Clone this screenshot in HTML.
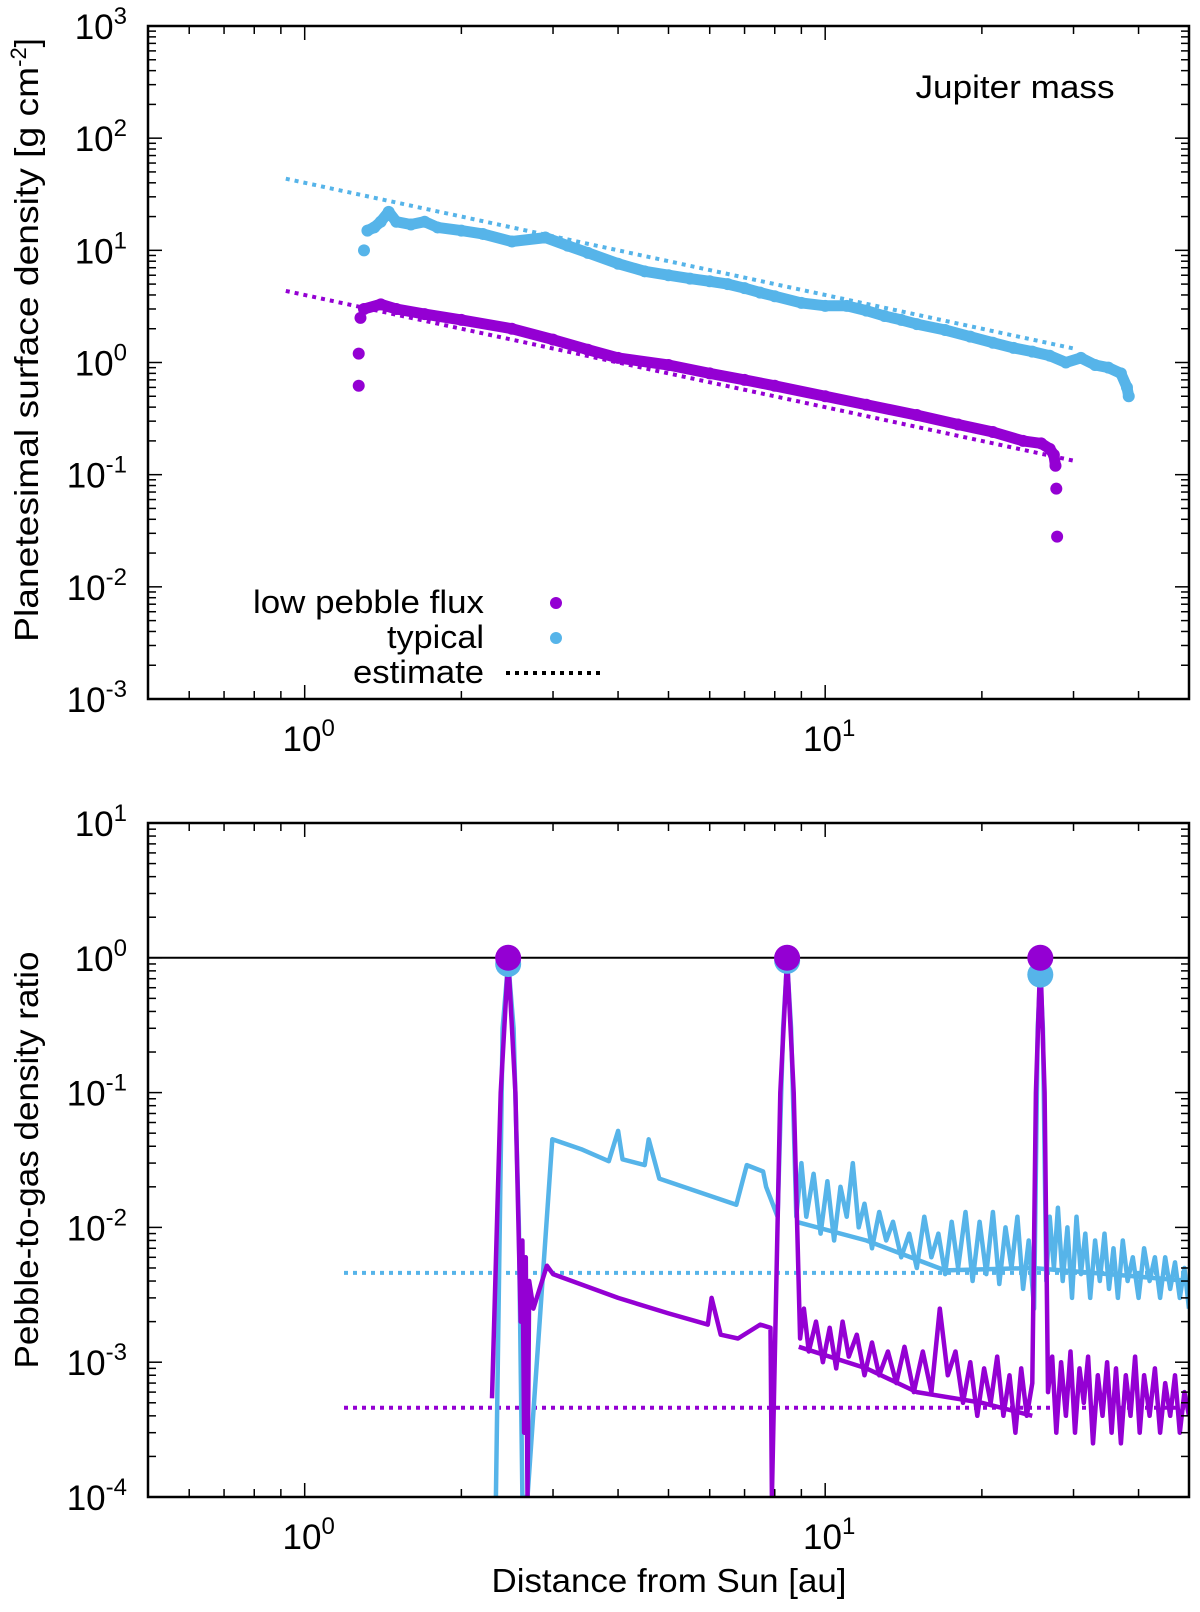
<!DOCTYPE html>
<html><head><meta charset="utf-8"><style>
body{margin:0;background:#fff;}
svg{display:block;font-family:"Liberation Sans",Arial,sans-serif;}
</style></head><body>
<svg id="fig" width="1200" height="1612" viewBox="0 0 1200 1612" xmlns="http://www.w3.org/2000/svg"></svg>
<script>
// ---- Top panel data ----
const typicalX = [1.3,1.32,1.36,1.4,1.45,1.5,1.6,1.7,1.8,2.0,2.2,2.5,2.9,3.2,3.5,4.0,4.5,5.0,5.5,6.0,6.5,7.0,7.5,8.0,9.0,10,11,12,13,14,15,17,19,21,23,25,27,29,31,33,35,37,38,38.3];
const typicalY = [10,15,16,18,22,18,17,18,16,15,14,12,13,11,9.5,7.6,6.5,6.0,5.6,5.3,5.0,4.6,4.2,3.9,3.4,3.2,3.2,2.9,2.6,2.4,2.2,1.95,1.7,1.5,1.35,1.25,1.15,1.0,1.1,0.95,0.9,0.8,0.6,0.5];
const lowX = [1.27,1.27,1.28,1.3,1.4,1.5,1.7,2.0,2.5,3.0,3.5,4.0,5.0,6.0,7.0,8.0,10,12,15,18,21,24,26,27,27.5,27.7,27.8,27.9];
const lowY = [0.62,1.2,2.5,3.0,3.3,3.0,2.7,2.4,2.0,1.6,1.3,1.1,0.95,0.8,0.7,0.62,0.5,0.42,0.34,0.28,0.24,0.2,0.19,0.17,0.15,0.12,0.075,0.028];
const estX = [0.92,30.5];
const estTypY = [43.5,1.31];
const estLowY = [4.35,0.131];
// ---- Bottom panel data ----
const cyanX = [2.33,2.40,2.46,2.52,2.58,2.62,2.68,2.99,3.4,3.84,4.0,4.08,4.5,4.58,4.8,6.75,7.07,7.6,7.7,8.1,8.3,8.45,8.6,8.8,9.0,9.2,9.5,9.8,10.1,10.4,10.7,11.0,11.3,11.6,11.9,12.3,12.7,13.1,13.5,14,14.5,15,15.5,16,16.5,17,17.5,18,18.6,19.2,19.8,20.4,21,21.6,22.2,22.8,23.4,24,24.6,25.2,25.6,25.9,26.2,26.6,27,27.5,28,28.6,29.2,29.8,30.4,31,31.6,32.3,33,33.7,34.4,35.1,35.8,36.5,37.3,38.1,39,40,41,42,43,44,45,46,47,48,49,50];
const cyanY = [1e-4,0.3,0.93,0.3,0.01,1e-4,1e-4,0.045,0.038,0.031,0.052,0.032,0.029,0.045,0.023,0.0147,0.029,0.026,0.02,0.012,0.3,0.95,0.3,0.012,0.03,0.012,0.025,0.009,0.022,0.008,0.02,0.012,0.03,0.01,0.015,0.007,0.013,0.008,0.011,0.006,0.009,0.005,0.012,0.006,0.009,0.0045,0.011,0.005,0.013,0.004,0.011,0.0045,0.013,0.0038,0.01,0.005,0.012,0.0035,0.008,0.0025,0.3,0.75,0.3,0.004,0.012,0.005,0.014,0.004,0.01,0.003,0.012,0.0045,0.009,0.003,0.008,0.004,0.009,0.0035,0.007,0.003,0.008,0.004,0.006,0.003,0.007,0.004,0.006,0.003,0.006,0.0035,0.0055,0.003,0.005,0.0025];
const cyan2X = [8.8,12,17,25,35,50];
const cyan2Y = [0.011,0.008,0.0048,0.005,0.0045,0.004];
const purpX = [2.29,2.38,2.46,2.54,2.6,2.62,2.64,2.66,2.68,2.7,2.75,2.92,3.0,4,5,5.95,6.05,6.3,6.8,7.5,7.85,7.9,8.2,8.45,8.7,8.95,9.1,9.3,9.6,9.9,10.2,10.5,10.8,11.1,11.5,11.9,12.3,12.7,13.2,13.7,14.2,14.8,15.4,16,16.6,17.2,17.8,18.4,19,19.6,20.2,20.8,21.4,22,22.6,23.2,23.8,24.4,25,25.4,25.9,26.4,26.8,27.3,27.8,28.4,29,29.6,30.2,30.8,31.4,32,32.7,33.4,34.1,34.8,35.5,36.2,37,37.8,38.6,39.4,40.2,41,42,43,44,45,46,47,48,49,50];
const purpY = [5.4e-4,0.1,1.0,0.1,0.002,0.008,0.0003,0.006,1e-4,0.004,0.0025,0.0052,0.0045,0.003,0.0023,0.0019,0.003,0.0016,0.0015,0.0019,0.0018,1e-4,0.1,1.0,0.1,0.0015,0.0025,0.0012,0.002,0.001,0.0018,0.0009,0.002,0.0011,0.0016,0.0008,0.0014,0.0008,0.0012,0.0007,0.0013,0.0006,0.0012,0.0006,0.0025,0.0008,0.0012,0.0005,0.001,0.0004,0.0009,0.0005,0.0011,0.0004,0.0008,0.0003,0.0009,0.0004,0.0007,0.1,1.0,0.1,0.0006,0.0011,0.0003,0.001,0.0004,0.0012,0.0003,0.0009,0.0005,0.0011,0.00025,0.0008,0.0004,0.001,0.0003,0.0009,0.00025,0.0008,0.0004,0.0011,0.0003,0.0008,0.0004,0.0009,0.0003,0.0007,0.0004,0.0008,0.0003,0.0006,0.0004];
const purp2X = [8.9,12,15,20,25];
const purp2Y = [0.0013,0.0009,0.0006,0.0005,0.0004];
const peakX = [2.46,8.45,25.9];
const peakCyanY = [0.9,0.95,0.75];
const peakPurpY = [1.0,1.0,1.0];
const estBotX = [1.19,50];
const estBotCyan = [0.0046,0.0046];
const estBotPurp = [0.00046,0.00046];
const topYExp = [-3,-2,-1,0,1,2,3];
const botYExp = [-4,-3,-2,-1,0,1];
const xExp = [0,1];

const C="#56B4E9", P="#9400D3";
const NS="http://www.w3.org/2000/svg";
const svg=document.getElementById('fig');
function mk(tag,attrs,parent){const e=document.createElementNS(NS,tag);for(const k in attrs)e.setAttribute(k,attrs[k]);(parent||svg).appendChild(e);return e;}
const L=148,R=1189;
const xs=v=>L+(Math.log10(v)-Math.log10(0.5))/2*(R-L);
function yScale(top,bot,lo,hi){return v=>bot-(Math.log10(v)-lo)/(hi-lo)*(bot-top);}
const yT=yScale(26,699,-3,3), yB=yScale(823,1497,-4,1);

function axes(name,top,bot,ys,lo,hi,exps){
  const g=mk('g',{});
  
  
  const majors=[1,10], minors=[0.6,0.7,0.8,0.9,2,3,4,5,6,7,8,9,20,30,40];
  majors.concat(minors).forEach(v=>{const x=xs(v),len=majors.includes(v)?14:8;
    mk('line',{x1:x,x2:x,y1:bot,y2:bot-len,stroke:'#000','stroke-width':1.5},g);
    mk('line',{x1:x,x2:x,y1:top,y2:top+len,stroke:'#000','stroke-width':1.5},g);});
  for(let e=lo;e<=hi;e++){const y=ys(Math.pow(10,e));
    if(e>lo&&e<hi){mk('line',{x1:L,x2:L+14,y1:y,y2:y,stroke:'#000','stroke-width':1.5},g);mk('line',{x1:R,x2:R-14,y1:y,y2:y,stroke:'#000','stroke-width':1.5},g);}
    if(e<hi)for(let m=2;m<10;m++){const yy=ys(m*Math.pow(10,e));
      mk('line',{x1:L,x2:L+8,y1:yy,y2:yy,stroke:'#000','stroke-width':1.5},g);mk('line',{x1:R,x2:R-8,y1:yy,y2:yy,stroke:'#000','stroke-width':1.5},g);}}
  exps.forEach(e=>{const y=ys(Math.pow(10,e));
    const t=mk('text',{x:127,y:y+13,'text-anchor':'end','font-size':35},g);
    
    
    t.innerHTML='10<tspan dy="-15" font-size="24">'+e+'</tspan>';});
  xExp.forEach(e=>{const x=xs(Math.pow(10,e));
    const t=mk('text',{x:x+4,y:bot+52,'text-anchor':'middle','font-size':35},g);
    
    
    t.innerHTML='10<tspan dy="-15" font-size="24">'+e+'</tspan>';});
  const f=mk('rect',{x:L,y:top,width:R-L,height:bot-top,fill:'none',stroke:'#000','stroke-width':2.5});
  
  
}
function path(X,Y,ys){return X.map((x,i)=>(i?'L':'M')+xs(x).toFixed(1)+','+ys(Y[i]).toFixed(1)).join(' ');}
function clip(id,top,bot){const cp=mk('clipPath',{id:id});mk('rect',{x:L,y:top,width:R-L,height:bot-top},cp);}
clip('ct',26,699);clip('cb',823,1497);

// ---- top panel ----
const gT=mk('g',{'clip-path':'url(#ct)'});


let e1=mk('path',{d:path(estX,estTypY,yT),stroke:C,'stroke-width':4,fill:'none','stroke-dasharray':'4 5'},gT);


let e2=mk('path',{d:path(estX,estLowY,yT),stroke:P,'stroke-width':4,fill:'none','stroke-dasharray':'4 5'},gT);


function scatter(X,Y,col,name,skip){
  const g=mk('g',{},gT);
  
  
  mk('path',{d:path(X.slice(skip),Y.slice(skip),yT),stroke:col,'stroke-width':11,fill:'none','stroke-linejoin':'round','stroke-linecap':'round'},g);
  X.forEach((x,i)=>{const c=mk('circle',{cx:xs(x),cy:yT(Y[i]),r:6,fill:col},g);
    
    });
}
scatter(typicalX,typicalY,C,'typical-series',1);
scatter(lowX.slice(0,26),lowY.slice(0,26),P,'low-flux-series',3);
lowX.slice(26).forEach((x,i)=>{const c=mk('circle',{cx:xs(x),cy:yT(lowY[26+i]),r:6,fill:P},gT);
  
  });
axes('top',26,699,yT,-3,3,topYExp);

// ---- bottom panel ----
const gB=mk('g',{'clip-path':'url(#cb)'});


let h=mk('line',{x1:L,x2:R,y1:yB(1),y2:yB(1),stroke:'#000','stroke-width':2},gB);


let d1=mk('path',{d:path(estBotX,estBotCyan,yB),stroke:C,'stroke-width':4,fill:'none','stroke-dasharray':'4 5'},gB);


let d2=mk('path',{d:path(estBotX,estBotPurp,yB),stroke:P,'stroke-width':4,fill:'none','stroke-dasharray':'4 5'},gB);


[[cyanX,cyanY,C,'typical-ratio-line'],[cyan2X,cyan2Y,C,'typical-ratio-envelope'],[purpX,purpY,P,'low-ratio-line'],[purp2X,purp2Y,P,'low-ratio-envelope']].forEach(s=>{
  const p=mk('path',{d:path(s[0],s[1],yB),stroke:s[2],'stroke-width':4.5,fill:'none','stroke-linejoin':'round'},gB);
  
  });
peakX.forEach((x,i)=>{
  const c1=mk('circle',{cx:xs(x),cy:yB(peakCyanY[i]),r:13,fill:C},gB);
  
  
  const c2=mk('circle',{cx:xs(x),cy:yB(peakPurpY[i]),r:13,fill:P},gB);
  
  });
axes('bottom',823,1497,yB,-4,1,botYExp);

// ---- text ----
function txt(s,a,name){const t=mk('text',Object.assign({lengthAdjust:'spacingAndGlyphs'},a));t.textContent=s;return t;}
txt('Jupiter mass',{x:1015,y:98,'text-anchor':'middle','font-size':32,textLength:199},'annotation-jupiter-mass');
const yt=mk('text',{x:0,y:0,'text-anchor':'middle','font-size':33,transform:'translate(38,340) rotate(-90)'});


yt.innerHTML='<tspan textLength="575" lengthAdjust="spacingAndGlyphs">Planetesimal surface density [g cm</tspan><tspan dy="-12" font-size="22">-2</tspan><tspan dy="12">]</tspan>';
txt('Pebble-to-gas density ratio',{x:0,y:0,'text-anchor':'middle','font-size':33,textLength:417,transform:'translate(38,1160) rotate(-90)'},'bottom-y-axis-title');
txt('Distance from Sun [au]',{x:669,y:1592,'text-anchor':'middle','font-size':33,textLength:355},'x-axis-title');
// legend
txt('low pebble flux',{x:484,y:613,'text-anchor':'end','font-size':32,textLength:231},'legend-low-label');
let lc=mk('circle',{cx:556,cy:603,r:6,fill:P});
txt('typical',{x:484,y:648,'text-anchor':'end','font-size':32,textLength:97},'legend-typical-label');
let tc=mk('circle',{cx:556,cy:638,r:6,fill:C});
txt('estimate',{x:484,y:683,'text-anchor':'end','font-size':32,textLength:131},'legend-estimate-label');
let el=mk('line',{x1:506,x2:600,y1:673,y2:673,stroke:'#000','stroke-width':4,'stroke-dasharray':'4 5'});


</script>
</body></html>
